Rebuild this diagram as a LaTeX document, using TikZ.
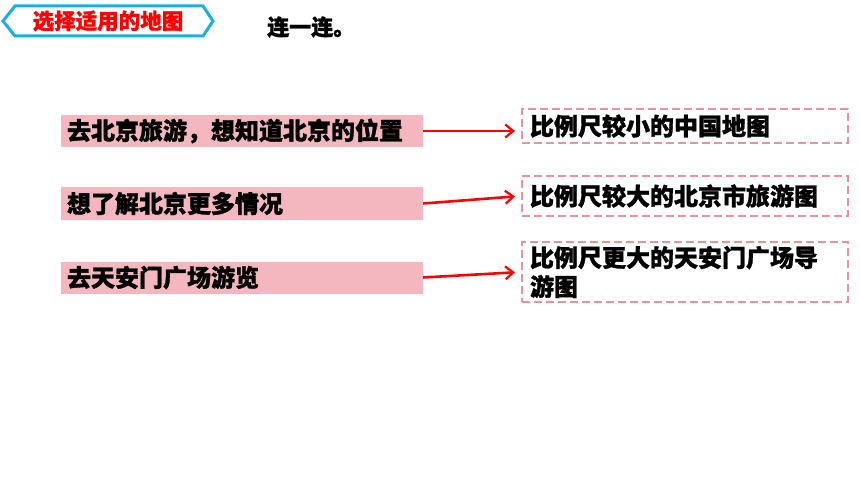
\documentclass[tikz,border=0pt]{standalone}
\usepackage{fontspec}
\newfontfamily\cjk{Noto Sans CJK SC}[BoldFeatures={FakeBold=1.2}]
\usetikzlibrary{arrows.meta}
\definecolor{hexcyan}{HTML}{1AAEE6}
\definecolor{pinkfill}{HTML}{F4B7BF}
\definecolor{pinkdash}{HTML}{E8929E}
\definecolor{arrred}{HTML}{FF0000}
\tikzset{
  lbox/.style={fill=pinkfill, draw=none, rectangle, minimum height=32pt, text width=350pt, inner xsep=6pt, inner ysep=0pt, align=left, font=\cjk\bfseries\fontsize{24pt}{29pt}\selectfont},
  rbox/.style={draw=pinkdash, line width=2pt, dash pattern=on 8pt off 4pt, rectangle, text width=310pt, inner xsep=8pt, inner ysep=0pt, align=left, font=\cjk\bfseries\fontsize{24pt}{29pt}\selectfont},
  conn/.style={draw=arrred, line width=2.6pt, -{Straight Barb[length=8pt,width=13pt,line width=2.2pt]}, shorten >=6pt},
}
\begin{document}
\begin{tikzpicture}[x=1pt,y=-1pt]
\useasboundingbox (0,0) rectangle (860,484);
% header
\draw[hexcyan, line width=3pt, line join=miter] (3,21) -- (15,6) -- (203,6) -- (213,21) -- (203,36) -- (15,36) -- cycle;
\node[text=arrred, font=\cjk\bfseries\fontsize{21.5pt}{24pt}\selectfont, inner sep=0pt] (hdr) at (108,21) {选择适用的地图};
\node[anchor=west, font=\cjk\bfseries\fontsize{22pt}{26pt}\selectfont, inner sep=0pt] (title) at (267,27) {连一连。};
% left boxes
\node[lbox] (l1) at (242,131) {去北京旅游，想知道北京的位置};
\node[lbox] (l2) at (242,203.5) {想了解北京更多情况};
\node[lbox] (l3) at (242,277.5) {去天安门广场游览};
% right boxes
\node[rbox, minimum height=34pt] (r1) at (685,126) {比例尺较小的中国地图};
\node[rbox, minimum height=40pt] (r2) at (685,196) {比例尺较大的北京市旅游图};
\node[rbox, minimum height=60pt] (r3) at (685,272) {比例尺更大的天安门广场导\\游图};
% connectors
\draw[conn] (l1.east) -- (l1.east -| r1.west);
\draw[conn] (l2.east) -- (r2.west);
\draw[conn] (l3.east) -- (r3.west);
\end{tikzpicture}
\end{document}
